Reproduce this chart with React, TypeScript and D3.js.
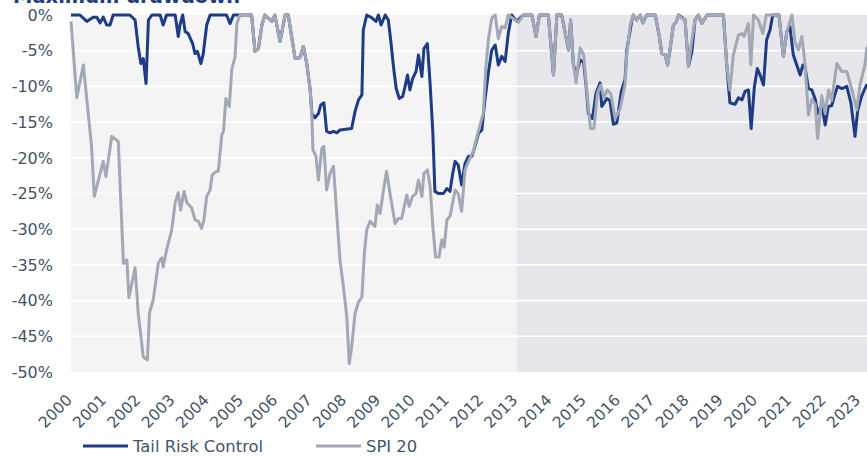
import * as d3 from 'd3'

// decimal years / drawdown in %
const trcYears = [
  2000.0, 2000.26, 2000.46, 2000.65, 2000.75, 2000.85, 2000.94, 2001.04, 2001.14, 2001.23, 2001.72, 2001.87,
  2001.96, 2002.04, 2002.11, 2002.19, 2002.26, 2002.36, 2002.6, 2002.69, 2002.79, 2003.04, 2003.13, 2003.18,
  2003.26, 2003.33, 2003.42, 2003.55, 2003.62, 2003.69, 2003.79, 2003.86, 2003.96, 2004.06, 2004.54, 2004.64,
  2004.74, 2005.27, 2005.37, 2005.47, 2005.57, 2005.66, 2005.86, 2005.95, 2006.1, 2006.25, 2006.34, 2006.54,
  2006.68, 2006.78, 2006.88, 2006.98, 2007.03, 2007.12, 2007.22, 2007.29, 2007.38, 2007.46, 2007.56, 2007.66,
  2007.76, 2007.85, 2008.19, 2008.29, 2008.39, 2008.49, 2008.53, 2008.63, 2008.78, 2008.9, 2008.97, 2009.05,
  2009.17, 2009.26, 2009.33, 2009.41, 2009.49, 2009.58, 2009.68, 2009.75, 2009.82, 2009.89, 2009.97, 2010.07,
  2010.14, 2010.24, 2010.3, 2010.4, 2010.48, 2010.56, 2010.62, 2010.72, 2010.87, 2010.97, 2011.06, 2011.14,
  2011.21, 2011.3, 2011.4, 2011.5, 2011.6, 2011.7, 2011.79, 2011.89, 2011.99, 2012.08, 2012.18, 2012.28,
  2012.38, 2012.47, 2012.57, 2012.67, 2012.76, 2012.86, 2013.01, 2013.2, 2013.45, 2013.57, 2013.67, 2013.93,
  2014.08, 2014.18, 2014.32, 2014.52, 2014.58, 2014.66, 2014.74, 2014.86, 2014.96, 2015.03, 2015.1, 2015.22,
  2015.32, 2015.44, 2015.49, 2015.64, 2015.73, 2015.83, 2015.93, 2016.06, 2016.17, 2016.22, 2016.37, 2016.41,
  2016.51, 2016.61, 2016.69, 2016.8, 2017.05, 2017.17, 2017.24, 2017.34, 2017.41, 2017.48, 2017.58, 2017.66,
  2017.73, 2017.92, 2018.02, 2018.12, 2018.21, 2018.31, 2018.41, 2018.56, 2019.04, 2019.14, 2019.23, 2019.38,
  2019.48, 2019.58, 2019.67, 2019.77, 2019.85, 2019.94, 2020.03, 2020.11, 2020.21, 2020.3, 2020.4, 2020.48,
  2020.66, 2020.79, 2020.89, 2020.98, 2021.08, 2021.18, 2021.28, 2021.36, 2021.42, 2021.52, 2021.62, 2021.72,
  2021.79, 2021.91, 2022.01, 2022.1, 2022.2, 2022.3, 2022.37, 2022.5, 2022.64, 2022.76, 2022.88, 2022.96,
  2023.08, 2023.17, 2023.23,
]
const trcValues = [
  0, 0, -0.9, -0.3, -0.3, -1.1, -0.3, -1.4, -1.4, 0, 0, -0.7,
  -4.4, -6.8, -6.1, -9.6, -0.7, 0, 0, -1.4, 0, 0, -3.0, -1.4,
  0, -2.3, -2.6, -4.0, -5.4, -5.1, -6.8, -5.4, -1.4, 0, 0, -1.2,
  0, 0, -5.1, -4.7, -1.4, 0, -0.9, 0, -3.7, 0, 0, -6.1,
  -6.0, -4.4, -6.8, -10.5, -13.8, -14.4, -13.8, -12.6, -12.3, -16.3, -16.5, -16.3,
  -16.5, -16.1, -15.9, -13.5, -11.9, -11.2, -2.1, 0, -0.4, -0.9, 0, -1.4,
  0, -0.7, -3.5, -7.2, -10.3, -11.7, -11.4, -10.0, -8.4, -10.5, -8.9, -7.9,
  -5.6, -8.6, -4.7, -4.0, -9.6, -16.5, -24.7, -25.0, -25.0, -24.3, -24.7, -22.2,
  -20.5, -21.0, -23.8, -20.8, -19.8, -19.8, -18.4, -16.6, -16.1, -11.9, -8.1, -4.9,
  -4.2, -7.0, -5.8, -6.5, -2.6, 0, -0.9, 0, 0, -3.0, 0, 0,
  -8.4, 0, 0, -4.9, -0.7, -6.8, -8.5, -6.3, -6.6, -9.8, -13.8, -14.5,
  -11.0, -9.5, -12.8, -11.7, -12.0, -15.3, -15.1, -10.7, -9.0, -4.9, -0.7, 0,
  -0.7, 0, -1.1, 0, 0, -3.0, -5.4, -5.6, -7.0, -4.9, -1.4, -1.0,
  0, -0.7, -7.2, -5.1, -0.7, 0, -1.2, 0, 0, -7.2, -12.3, -12.5,
  -11.6, -11.9, -10.7, -10.5, -15.9, -10.2, -7.5, -8.4, -9.8, -3.5, -2.1, 0,
  0, -5.8, -2.3, -1.6, -5.6, -7.0, -8.4, -7.0, -7.2, -10.3, -10.5, -11.8,
  -13.8, -12.6, -15.4, -12.8, -12.7, -11.0, -10.0, -10.3, -10.0, -12.3, -17.0, -13.3,
  -11.3, -10.3, -9.7,
]

const spiYears = [
  2000.0, 2000.17, 2000.36, 2000.6, 2000.68, 2000.94, 2001.02, 2001.19, 2001.38, 2001.53, 2001.63, 2001.69,
  2001.87, 2001.96, 2002.11, 2002.23, 2002.29, 2002.4, 2002.55, 2002.65, 2002.69, 2002.79, 2002.94, 2003.04,
  2003.13, 2003.2, 2003.3, 2003.38, 2003.52, 2003.62, 2003.72, 2003.81, 2003.88, 2003.96, 2004.06, 2004.12,
  2004.25, 2004.3, 2004.4, 2004.45, 2004.52, 2004.62, 2004.69, 2004.79, 2004.84, 2004.93, 2005.27, 2005.37,
  2005.47, 2005.57, 2005.66, 2005.86, 2005.95, 2006.1, 2006.25, 2006.34, 2006.54, 2006.68, 2006.78, 2006.88,
  2006.98, 2007.03, 2007.06, 2007.15, 2007.22, 2007.32, 2007.38, 2007.46, 2007.56, 2007.66, 2007.76, 2007.85,
  2007.95, 2008.05, 2008.12, 2008.19, 2008.29, 2008.39, 2008.49, 2008.56, 2008.63, 2008.73, 2008.87, 2008.94,
  2009.02, 2009.12, 2009.21, 2009.31, 2009.39, 2009.46, 2009.55, 2009.65, 2009.8, 2009.87, 2009.97, 2010.07,
  2010.14, 2010.24, 2010.3, 2010.4, 2010.48, 2010.56, 2010.64, 2010.74, 2010.82, 2010.89, 2010.97, 2011.06,
  2011.21, 2011.3, 2011.4, 2011.5, 2011.6, 2011.74, 2011.86, 2011.94, 2012.03, 2012.11, 2012.18, 2012.28,
  2012.38, 2012.47, 2012.57, 2012.67, 2012.76, 2012.96, 2013.06, 2013.2, 2013.45, 2013.57, 2013.67, 2013.93,
  2014.08, 2014.18, 2014.32, 2014.52, 2014.58, 2014.66, 2014.74, 2014.86, 2014.96, 2015.06, 2015.16, 2015.26,
  2015.36, 2015.46, 2015.55, 2015.65, 2015.75, 2015.88, 2016.02, 2016.17, 2016.22, 2016.32, 2016.41, 2016.51,
  2016.61, 2016.69, 2016.8, 2017.05, 2017.17, 2017.24, 2017.34, 2017.41, 2017.48, 2017.58, 2017.66, 2017.73,
  2017.78, 2017.92, 2018.02, 2018.12, 2018.21, 2018.31, 2018.41, 2018.56, 2019.04, 2019.14, 2019.23, 2019.33,
  2019.48, 2019.58, 2019.64, 2019.77, 2019.84, 2019.92, 2020.06, 2020.19, 2020.29, 2020.66, 2020.79, 2020.89,
  2021.04, 2021.13, 2021.23, 2021.33, 2021.42, 2021.52, 2021.62, 2021.72, 2021.79, 2021.91, 2022.01, 2022.11,
  2022.2, 2022.35, 2022.49, 2022.64, 2022.79, 2022.93, 2023.03, 2023.17, 2023.23,
]
const spiValues = [
  -0.9, -11.6, -7.0, -18.4, -25.4, -20.5, -22.6, -17.0, -17.7, -34.8, -34.3, -39.6,
  -35.4, -41.7, -47.9, -48.3, -41.7, -39.9, -34.7, -34.0, -35.3, -32.9, -30.1, -26.3,
  -24.9, -27.3, -24.7, -26.3, -27.0, -28.7, -28.9, -29.9, -28.7, -25.4, -24.5, -22.4,
  -21.9, -21.9, -16.8, -16.3, -11.7, -12.8, -7.7, -5.8, -1.2, 0, 0, -5.1,
  -4.7, -1.4, 0, -0.9, 0, -3.7, 0, 0, -6.1, -6.0, -4.4, -6.8,
  -10.5, -14.2, -18.9, -19.8, -23.1, -18.7, -18.4, -24.5, -22.2, -21.2, -28.2, -34.3,
  -38.1, -42.3, -48.8, -46.5, -41.8, -40.2, -39.5, -33.4, -30.1, -28.9, -29.6, -26.6,
  -27.8, -24.5, -21.9, -25.0, -27.3, -29.2, -28.5, -28.5, -25.2, -26.8, -25.4, -25.0,
  -23.1, -25.4, -22.2, -21.7, -24.0, -29.6, -33.9, -33.9, -31.5, -32.5, -28.7, -28.2,
  -24.5, -25.0, -27.5, -21.7, -20.5, -19.1, -16.8, -15.4, -13.8, -7.2, -3.5, -0.4,
  0, -3.3, -1.6, -1.8, 0, -0.7, -1.0, 0, 0, -3.0, 0, 0,
  -8.4, 0, 0, -4.9, -0.7, -6.8, -9.5, -4.6, -5.6, -11.0, -15.9, -15.9,
  -11.0, -9.8, -11.6, -10.5, -11.0, -14.5, -13.2, -9.7, -5.4, -1.4, 0, -0.7,
  0, -1.1, 0, 0, -3.0, -5.4, -5.6, -7.0, -4.9, -1.4, -1.0, 0,
  -0.3, -0.7, -7.2, -3.5, -0.7, 0, -1.2, 0, 0, -7.2, -10.5, -5.6,
  -2.8, -2.6, -3.0, -1.2, -7.0, 0, -0.7, -2.6, 0, 0, -5.8, -2.3,
  0, -3.8, -4.9, -3.0, -6.8, -14.0, -11.8, -12.5, -17.3, -11.3, -13.8, -10.5,
  -12.0, -6.8, -7.9, -7.9, -10.5, -13.3, -9.7, -7.0, -4.4,
]

const yTicks = [0, -5, -10, -15, -20, -25, -30, -35, -40, -45, -50]
const xTickYears = d3.range(2000, 2024)
const liveStart = 2013
const seriesNames = ['Tail Risk Control', 'SPI 20']

const W = 867
const H = 456
const margin = { top: 15, right: 0, bottom: 84, left: 71 }

const textColor = '#44546a'
const trcColor = '#1d3c84'
const spiColor = '#a2a8b6'
const font = 'DejaVu Sans, sans-serif'

export default function App() {
  const x = d3.scaleLinear().domain([2000, 2023.23]).range([margin.left, W - margin.right])
  const y = d3.scaleLinear().domain([-50, 0]).range([H - margin.bottom, margin.top])

  const line = d3
    .line<[number, number]>()
    .x((d) => x(d[0]))
    .y((d) => y(d[1]))

  const trc = trcYears.map((t, i) => [t, trcValues[i]] as [number, number])
  const spi = spiYears.map((t, i) => [t, spiValues[i]] as [number, number])

  const top = y(0)
  const bottom = y(-50)

  return (
    <svg
      width={W}
      height={H}
      style={{ position: 'absolute', left: 0, top: 0, display: 'block', background: '#fff' }}
    >
      {/* title, mostly cut off at the top like the source */}
      <text x={13} y={2.5} fill="#1f3d7a" fontFamily={font} fontWeight="bold" fontSize={19.5}>
        Maximum drawdown
      </text>

      {/* backgrounds */}
      <rect x={x(2000)} y={top} width={x(liveStart) - x(2000)} height={bottom - top} fill="#f4f4f4" />
      <rect x={x(liveStart)} y={top} width={x(2023.23) - x(liveStart)} height={bottom - top} fill="#e6e6eb" />

      {/* grid */}
      {yTicks.slice(1, -1).map((t) => (
        <line key={t} x1={x(2000)} x2={W} y1={y(t)} y2={y(t)} stroke="#fff" strokeWidth={1.6} />
      ))}

      {/* y labels */}
      {yTicks.map((t) => (
        <text
          key={t}
          x={53}
          y={y(t)}
          dy="0.36em"
          textAnchor="end"
          fill={textColor}
          fontFamily={font}
          fontSize={16}
        >
          {`${t}%`}
        </text>
      ))}

      {/* x labels */}
      {xTickYears.map((yr) => (
        <text
          key={yr}
          transform={`translate(${x(yr) + 2},${bottom + 29}) rotate(-45)`}
          textAnchor="end"
          fill={textColor}
          fontFamily={font}
          fontSize={15.5}
        >
          {yr}
        </text>
      ))}

      {/* lines */}
      <path d={line(trc) || ''} fill="none" stroke={trcColor} strokeWidth={3} strokeLinejoin="round" />
      <path d={line(spi) || ''} fill="none" stroke={spiColor} strokeWidth={3} strokeLinejoin="round" />

      {/* legend */}
      {seriesNames.map((name, i) => {
        const lx = i === 0 ? 83 : 316
        return (
          <g key={name}>
            <line x1={lx} x2={lx + 45} y1={446} y2={446} stroke={i === 0 ? trcColor : spiColor} strokeWidth={3} />
            <text x={lx + 50} y={446} dy="0.36em" fill={textColor} fontFamily={font} fontSize={16.4}>
              {name}
            </text>
          </g>
        )
      })}
    </svg>
  )
}
